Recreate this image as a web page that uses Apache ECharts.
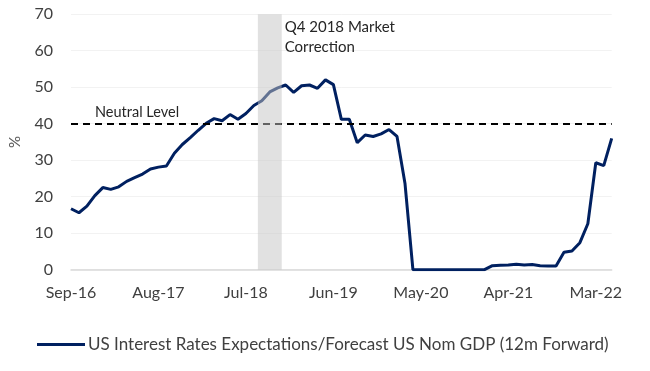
<!DOCTYPE html>
<html>
<head>
<meta charset="utf-8">
<script src="https://cdn.jsdelivr.net/npm/echarts@6/dist/echarts.min.js"></script>
<style>
html,body{margin:0;padding:0;background:#fff;}
#chart{width:650px;height:371px;}
</style>
</head>
<body>
<div id="chart"></div>
<script>
const categories = [
  'Sep-16','Oct-16','Nov-16','Dec-16',
  'Jan-17','Feb-17','Mar-17','Apr-17','May-17','Jun-17','Jul-17','Aug-17','Sep-17','Oct-17','Nov-17','Dec-17',
  'Jan-18','Feb-18','Mar-18','Apr-18','May-18','Jun-18','Jul-18','Aug-18','Sep-18','Oct-18','Nov-18','Dec-18',
  'Jan-19','Feb-19','Mar-19','Apr-19','May-19','Jun-19','Jul-19','Aug-19','Sep-19','Oct-19','Nov-19','Dec-19',
  'Jan-20','Feb-20','Mar-20','Apr-20','May-20','Jun-20','Jul-20','Aug-20','Sep-20','Oct-20','Nov-20','Dec-20',
  'Jan-21','Feb-21','Mar-21','Apr-21','May-21','Jun-21','Jul-21','Aug-21','Sep-21','Oct-21','Nov-21','Dec-21',
  'Jan-22','Feb-22','Mar-22','Apr-22','May-22'
];
const rateValues = [
  16.7, 15.6, 17.4, 20.3,
  22.5, 22.0, 22.7, 24.2, 25.2, 26.2, 27.6, 28.1, 28.4, 31.9, 34.3, 36.2,
  38.2, 40.1, 41.4, 40.8, 42.5, 41.2, 42.8, 45.0, 46.3, 48.7, 49.8, 50.6,
  48.6, 50.4, 50.6, 49.7, 52.0, 50.7, 41.2, 41.2, 34.8, 36.9, 36.5, 37.2,
  38.4, 36.5, 23.7, 0, 0, 0, 0, 0, 0, 0, 0, 0,
  0, 1.1, 1.2, 1.3, 1.5, 1.3, 1.4, 1.1, 1.0, 1.0, 4.8, 5.1,
  7.4, 12.6, 29.3, 28.5, 36.0
];
const seriesName = 'US Interest Rates Expectations/Forecast US Nom GDP (12m Forward)';
const neutralLevel = 40;
const neutralLabel = 'Neutral Level';
const correctionBand = [23.5, 26.5];   // position along the month index axis
const correctionTop = 71.2;
const correctionLabel = 'Q4 2018 Market\nCorrection';
const yTicks = { min: 0, max: 70, interval: 10 };

const FONT = 'Lato';
const chart = echarts.init(document.getElementById('chart'), null, {renderer: 'canvas'});
chart.setOption({
  animation: false,
  textStyle: { fontFamily: FONT },
  grid: { left: 66.7, right: 38.3, top: 14.2, bottom: 101.3, containLabel: false },
  legend: {
    data: [seriesName],
    left: 32, top: 331,
    icon: 'rect',
    itemWidth: 48, itemHeight: 3,
    itemGap: 5,
    textStyle: { fontFamily: FONT, fontSize: 17, color: '#404040', padding: [0, 0, 0, -2] }
  },
  xAxis: [{
    type: 'category',
    data: categories,
    boundaryGap: false,
    axisLine: { lineStyle: { color: '#D9D9D9', width: 1.5 } },
    axisTick: { show: false },
    axisLabel: { interval: 10, fontFamily: FONT, fontSize: 16, color: '#404040', margin: 15 },
    splitLine: { show: false }
  }, {
    type: 'value',
    min: 0, max: categories.length - 1,
    show: false
  }],
  yAxis: {
    type: 'value',
    min: yTicks.min, max: yTicks.max, interval: yTicks.interval,
    name: '%', nameLocation: 'middle', nameGap: 48, nameRotate: 90,
    nameTextStyle: { fontFamily: FONT, fontSize: 15, color: '#595959' },
    axisLine: { show: false },
    axisTick: { show: false },
    axisLabel: { fontFamily: FONT, fontSize: 16, color: '#404040', margin: 18 },
    splitLine: { lineStyle: { color: '#F2F2F2', width: 1 } }
  },
  series: [{
    name: seriesName,
    type: 'line',
    data: rateValues,
    symbol: 'none',
    z: 2,
    lineStyle: { color: '#002060', width: 3 },
    itemStyle: { color: '#002060' },
    markLine: {
      silent: true,
      symbol: 'none',
      z: 3,
      lineStyle: { color: '#000', type: [7, 5], width: 2 },
      label: {
        show: true, position: 'insideStartTop', distance: [24, 4],
        formatter: neutralLabel, fontFamily: FONT, fontSize: 14.5, color: '#262626'
      },
      data: [{ yAxis: neutralLevel }]
    }
  }, {
    name: 'band',
    type: 'line',
    xAxisIndex: 1,
    data: [],
    z: 10,
    markArea: {
      silent: true,
      z: 10,
      itemStyle: { color: 'rgba(196,196,196,0.5)' },
      label: {
        show: true, position: ['100%', 0], offset: [3, 3],
        formatter: correctionLabel, fontFamily: FONT, fontSize: 15, lineHeight: 20,
        color: '#262626', align: 'left', verticalAlign: 'top'
      },
      data: [[{ xAxis: correctionBand[0], yAxis: 0 }, { xAxis: correctionBand[1], yAxis: correctionTop }]]
    }
  }]
});
</script>
</body>
</html>
